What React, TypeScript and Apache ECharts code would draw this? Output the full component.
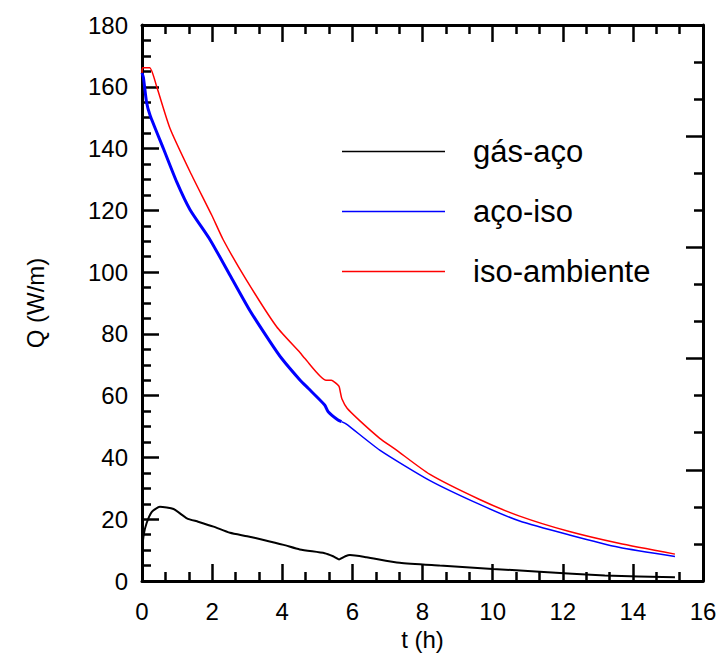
import React, { useEffect, useRef } from "react";
import * as echarts from "echarts";

// Heat flow Q (W/m) against time t (h)
const tGasAco = [0, 0.05, 0.13, 0.28, 0.51, 0.9, 1.28, 1.6, 2.04, 2.51, 3.0, 3.47, 4.04, 4.5, 5.21, 5.45, 5.62, 5.8, 5.93, 6.4, 7.35, 8.49, 10.0, 11.34, 13.2, 15.2];
const qGasAco = [10, 15, 18.7, 22.4, 24, 23.3, 20.3, 19.2, 17.6, 15.6, 14.5, 13.3, 11.7, 10.2, 9.0, 8.0, 7.0, 8.0, 8.4, 7.7, 5.9, 5.0, 3.9, 3.0, 1.8, 1.2];

const tAcoIso = [0, 0.04, 0.13, 0.23, 0.61, 0.99, 1.37, 1.94, 2.51, 3.08, 3.65, 3.98, 4.51, 4.74, 5.21, 5.31, 5.59, 5.69, 5.83, 6.78, 8.2, 9.63, 10.77, 12.19, 13.6, 15.2];
const qAcoIso = [164.5, 163, 155, 150.8, 140, 129.2, 120.2, 110.5, 99, 87.5, 77.5, 72.1, 65, 62.4, 57, 54.8, 52.1, 51.6, 50.8, 42.4, 32.6, 24.8, 19.4, 14.9, 10.9, 7.9];

const tIsoAmb = [0, 0.02, 0.22, 0.42, 0.8, 1.37, 1.99, 2.32, 2.98, 3.84, 4.51, 4.64, 5.25, 5.4, 5.5, 5.62, 5.66, 5.7, 5.85, 6.2, 6.78, 7.23, 8.2, 9.63, 10.77, 12.19, 13.6, 15.2];
const qIsoAmb = [164.5, 166.2, 166.2, 160, 146.5, 132.5, 118.4, 110.4, 97.4, 82.3, 73.9, 72.1, 65, 65, 64.3, 63, 61, 59, 55.9, 52, 46.2, 42.6, 34.6, 26.4, 21, 16, 12.2, 8.7];

const seriesNames = ["gás-aço", "aço-iso", "iso-ambiente"];
const xTicks = { min: 0, max: 16, step: 2 };
const yTicks = { min: 0, max: 180, step: 20 };

const pairs = (t: number[], q: number[]) => t.map((v, i) => [v, q[i]]);

const FONT = "'Liberation Sans', Arial, sans-serif";

export default function App() {
  const ref = useRef<HTMLDivElement>(null);

  useEffect(() => {
    if (!ref.current) return;
    const chart = echarts.init(ref.current, undefined, { renderer: "svg" });

    const axisLine = { show: true, onZero: false, lineStyle: { color: "#000", width: 3 } };
    const tick = { show: true, inside: true, length: 17, lineStyle: { color: "#000", width: 2.5 } };
    const minor = (n: number) => ({ show: true, splitNumber: n, length: 9, lineStyle: { color: "#000", width: 2.5 } });
    const label = { color: "#000", fontSize: 24, fontFamily: FONT };

    const blue = pairs(tAcoIso, qAcoIso);
    const splitAt = tAcoIso.indexOf(5.69);
    const curve = { type: "line", symbol: "none", smooth: 0.2 };

    chart.setOption({
      animation: false,
      backgroundColor: "#fff",
      grid: { left: 142, right: 17, top: 25, bottom: 76, containLabel: false },
      legend: {
        orient: "vertical",
        left: 337,
        top: 131,
        icon: "rect",
        itemWidth: 103,
        itemHeight: 1.5,
        itemGap: 29,
        data: seriesNames,
        textStyle: { color: "#000", fontSize: 31, fontFamily: FONT, padding: [0, 0, 0, 23] },
      },
      xAxis: [
        {
          type: "value",
          position: "bottom",
          min: xTicks.min,
          max: xTicks.max,
          interval: xTicks.step,
          name: "t (h)",
          nameLocation: "middle",
          nameGap: 32,
          nameTextStyle: label,
          axisLine,
          axisTick: tick,
          minorTick: minor(3),
          splitLine: { show: false },
          axisLabel: { ...label, margin: 18 },
        },
        {
          type: "value",
          position: "top",
          min: xTicks.min,
          max: xTicks.max,
          interval: xTicks.step,
          axisLine,
          axisTick: tick,
          minorTick: minor(3),
          splitLine: { show: false },
          axisLabel: { show: false },
        },
      ],
      yAxis: [
        {
          type: "value",
          position: "left",
          min: yTicks.min,
          max: yTicks.max,
          interval: yTicks.step,
          name: "Q (W/m)",
          nameLocation: "middle",
          nameGap: 95,
          nameTextStyle: label,
          axisLine,
          axisTick: tick,
          minorTick: minor(4),
          splitLine: { show: false },
          axisLabel: { ...label, margin: 14 },
        },
        {
          type: "value",
          position: "right",
          min: 0,
          max: 5,
          interval: 1,
          axisLine,
          axisTick: tick,
          minorTick: minor(3),
          splitLine: { show: false },
          axisLabel: { show: false },
        },
      ],
      series: [
        {
          ...curve,
          name: seriesNames[0],
          data: pairs(tGasAco, qGasAco),
          lineStyle: { color: "#000", width: 2 },
          itemStyle: { color: "#000" },
        },
        {
          ...curve,
          name: seriesNames[1],
          data: blue.slice(0, splitAt + 1),
          lineStyle: { color: "#0000ff", width: 3 },
          itemStyle: { color: "#0000ff" },
        },
        {
          ...curve,
          name: seriesNames[1],
          data: blue.slice(splitAt),
          lineStyle: { color: "#0000ff", width: 1.5 },
          itemStyle: { color: "#0000ff" },
        },
        {
          ...curve,
          name: seriesNames[2],
          data: pairs(tIsoAmb, qIsoAmb),
          lineStyle: { color: "#ff0000", width: 1.5 },
          itemStyle: { color: "#ff0000" },
        },
      ],
    });

    return () => chart.dispose();
  }, []);

  return <div ref={ref} style={{ position: "absolute", left: 0, top: 0, width: 720, height: 657 }} />;
}
